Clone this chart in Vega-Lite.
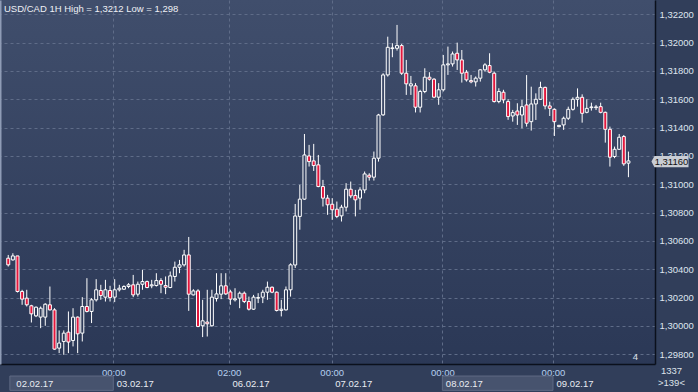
{
"$schema": "https://vega.github.io/schema/vega-lite/v6.json",
"width": 655, "height": 364,
"padding": {"left": 0, "top": 0, "right": 43, "bottom": 28},
"autosize": {"type": "none"},
"background": "#313e5a",
"title": {"text": "USD/CAD 1H High = 1,3212 Low = 1,298", "anchor": "start", "frame": "group", "offset": -13, "dx": 4, "fontSize": 9.5, "font": "Liberation Sans", "fontWeight": "normal", "color": "#eef0f5"},
"config": {
 "view": {"stroke": null, "fill": {"gradient": "linear", "x1": 0, "y1": 0, "x2": 0, "y2": 1, "stops": [{"offset": 0, "color": "#404e6c"}, {"offset": 1, "color": "#2b3856"}]}},
 "text": {"font": "Liberation Sans"}
},
"datasets": {
 "candles": [
{"i":0,"o":1.30478,"h":1.30501,"l":1.30419,"c":1.30431},
{"i":1,"o":1.30466,"h":1.30513,"l":1.30461,"c":1.30494},
{"i":2,"o":1.30494,"h":1.30494,"l":1.30236,"c":1.30243},
{"i":3,"o":1.30243,"h":1.30255,"l":1.30149,"c":1.30189},
{"i":4,"o":1.30196,"h":1.30255,"l":1.30137,"c":1.30149},
{"i":5,"o":1.30142,"h":1.30149,"l":1.30024,"c":1.30085},
{"i":6,"o":1.30071,"h":1.30137,"l":1.30062,"c":1.30132},
{"i":7,"o":1.30062,"h":1.30137,"l":1.29984,"c":1.30125},
{"i":8,"o":1.30062,"h":1.30160,"l":1.30001,"c":1.30153},
{"i":9,"o":1.30149,"h":1.30278,"l":1.30109,"c":1.30113},
{"i":10,"o":1.30113,"h":1.30125,"l":1.29832,"c":1.29836},
{"i":11,"o":1.29843,"h":1.29968,"l":1.29808,"c":1.29879},
{"i":12,"o":1.29890,"h":1.29968,"l":1.29796,"c":1.29949},
{"i":13,"o":1.29956,"h":1.30102,"l":1.29808,"c":1.29886},
{"i":14,"o":1.29897,"h":1.30125,"l":1.29855,"c":1.30062},
{"i":15,"o":1.30062,"h":1.30067,"l":1.29808,"c":1.29944},
{"i":16,"o":1.29949,"h":1.30203,"l":1.29890,"c":1.30137},
{"i":17,"o":1.30137,"h":1.30337,"l":1.30095,"c":1.30102},
{"i":18,"o":1.30102,"h":1.30196,"l":1.30020,"c":1.30184},
{"i":19,"o":1.30184,"h":1.30330,"l":1.30172,"c":1.30255},
{"i":20,"o":1.30250,"h":1.30290,"l":1.30184,"c":1.30215},
{"i":21,"o":1.30203,"h":1.30325,"l":1.30172,"c":1.30255},
{"i":22,"o":1.30250,"h":1.30283,"l":1.30172,"c":1.30200},
{"i":23,"o":1.30203,"h":1.30330,"l":1.30168,"c":1.30255},
{"i":24,"o":1.30255,"h":1.30290,"l":1.30243,"c":1.30266},
{"i":25,"o":1.30259,"h":1.30287,"l":1.30255,"c":1.30278},
{"i":26,"o":1.30278,"h":1.30302,"l":1.30266,"c":1.30290},
{"i":27,"o":1.30290,"h":1.30360,"l":1.30203,"c":1.30219},
{"i":28,"o":1.30224,"h":1.30313,"l":1.30207,"c":1.30294},
{"i":29,"o":1.30294,"h":1.30396,"l":1.30255,"c":1.30313},
{"i":30,"o":1.30313,"h":1.30320,"l":1.30266,"c":1.30271},
{"i":31,"o":1.30283,"h":1.30325,"l":1.30266,"c":1.30290},
{"i":32,"o":1.30285,"h":1.30372,"l":1.30278,"c":1.30320},
{"i":33,"o":1.30320,"h":1.30337,"l":1.30231,"c":1.30294},
{"i":34,"o":1.30285,"h":1.30349,"l":1.30224,"c":1.30273},
{"i":35,"o":1.30271,"h":1.30384,"l":1.30266,"c":1.30353},
{"i":36,"o":1.30349,"h":1.30454,"l":1.30313,"c":1.30414},
{"i":37,"o":1.30414,"h":1.30466,"l":1.30372,"c":1.30431},
{"i":38,"o":1.30431,"h":1.30537,"l":1.30419,"c":1.30501},
{"i":39,"o":1.30501,"h":1.30628,"l":1.30106,"c":1.30224},
{"i":40,"o":1.30219,"h":1.30259,"l":1.30215,"c":1.30247},
{"i":41,"o":1.30247,"h":1.30259,"l":1.29991,"c":1.29996},
{"i":42,"o":1.30001,"h":1.30184,"l":1.29921,"c":1.30036},
{"i":43,"o":1.30027,"h":1.30255,"l":1.29925,"c":1.30015},
{"i":44,"o":1.30001,"h":1.30255,"l":1.29996,"c":1.30203},
{"i":45,"o":1.30193,"h":1.30372,"l":1.30172,"c":1.30226},
{"i":46,"o":1.30224,"h":1.30372,"l":1.30189,"c":1.30283},
{"i":47,"o":1.30283,"h":1.30372,"l":1.30219,"c":1.30226},
{"i":48,"o":1.30240,"h":1.30255,"l":1.30149,"c":1.30189},
{"i":49,"o":1.30184,"h":1.30266,"l":1.30172,"c":1.30191},
{"i":50,"o":1.30196,"h":1.30243,"l":1.30125,"c":1.30231},
{"i":51,"o":1.30231,"h":1.30243,"l":1.30161,"c":1.30172},
{"i":52,"o":1.30172,"h":1.30207,"l":1.30109,"c":1.30118},
{"i":53,"o":1.30118,"h":1.30219,"l":1.30113,"c":1.30203},
{"i":54,"o":1.30196,"h":1.30231,"l":1.30161,"c":1.30200},
{"i":55,"o":1.30203,"h":1.30255,"l":1.30161,"c":1.30238},
{"i":56,"o":1.30238,"h":1.30313,"l":1.30184,"c":1.30273},
{"i":57,"o":1.30273,"h":1.30278,"l":1.30231,"c":1.30238},
{"i":58,"o":1.30238,"h":1.30243,"l":1.30102,"c":1.30109},
{"i":59,"o":1.30109,"h":1.30184,"l":1.30067,"c":1.30118},
{"i":60,"o":1.30113,"h":1.30278,"l":1.30109,"c":1.30255},
{"i":61,"o":1.30255,"h":1.30442,"l":1.30207,"c":1.30431},
{"i":62,"o":1.30430,"h":1.30861,"l":1.30409,"c":1.30776},
{"i":63,"o":1.30773,"h":1.30996,"l":1.30679,"c":1.30895},
{"i":64,"o":1.30895,"h":1.31355,"l":1.30890,"c":1.31207},
{"i":65,"o":1.31200,"h":1.31278,"l":1.31125,"c":1.31160},
{"i":66,"o":1.31165,"h":1.31285,"l":1.31094,"c":1.31132},
{"i":67,"o":1.31137,"h":1.31207,"l":1.30979,"c":1.30984},
{"i":68,"o":1.30984,"h":1.31031,"l":1.30843,"c":1.30902},
{"i":69,"o":1.30902,"h":1.30925,"l":1.30784,"c":1.30855},
{"i":70,"o":1.30859,"h":1.30902,"l":1.30749,"c":1.30820},
{"i":71,"o":1.30824,"h":1.30878,"l":1.30761,"c":1.30773},
{"i":72,"o":1.30777,"h":1.30855,"l":1.30737,"c":1.30838},
{"i":73,"o":1.30838,"h":1.31008,"l":1.30808,"c":1.30965},
{"i":74,"o":1.30965,"h":1.31019,"l":1.30902,"c":1.30918},
{"i":75,"o":1.30921,"h":1.30960,"l":1.30773,"c":1.30890},
{"i":76,"o":1.30902,"h":1.30979,"l":1.30820,"c":1.30960},
{"i":77,"o":1.30960,"h":1.31090,"l":1.30937,"c":1.31073},
{"i":78,"o":1.31064,"h":1.31078,"l":1.31026,"c":1.31050},
{"i":79,"o":1.31050,"h":1.31231,"l":1.31026,"c":1.31184},
{"i":80,"o":1.31184,"h":1.31497,"l":1.31160,"c":1.31489},
{"i":81,"o":1.31490,"h":1.31784,"l":1.31483,"c":1.31772},
{"i":82,"o":1.31772,"h":1.32042,"l":1.31760,"c":1.31967},
{"i":83,"o":1.31958,"h":1.31996,"l":1.31897,"c":1.31963},
{"i":84,"o":1.31960,"h":1.32125,"l":1.31944,"c":1.31979},
{"i":85,"o":1.31979,"h":1.31991,"l":1.31772,"c":1.31784},
{"i":86,"o":1.31784,"h":1.31878,"l":1.31631,"c":1.31709},
{"i":87,"o":1.31695,"h":1.31765,"l":1.31631,"c":1.31709},
{"i":88,"o":1.31695,"h":1.31714,"l":1.31507,"c":1.31544},
{"i":89,"o":1.31544,"h":1.31667,"l":1.31507,"c":1.31655},
{"i":90,"o":1.31655,"h":1.31819,"l":1.31643,"c":1.31756},
{"i":91,"o":1.31756,"h":1.31791,"l":1.31732,"c":1.31742},
{"i":92,"o":1.31742,"h":1.31749,"l":1.31608,"c":1.31615},
{"i":93,"o":1.31615,"h":1.31714,"l":1.31561,"c":1.31667},
{"i":94,"o":1.31667,"h":1.31913,"l":1.31655,"c":1.31843},
{"i":95,"o":1.31843,"h":1.31972,"l":1.31772,"c":1.31850},
{"i":96,"o":1.31850,"h":1.31937,"l":1.31831,"c":1.31920},
{"i":97,"o":1.31925,"h":1.32000,"l":1.31807,"c":1.31878},
{"i":98,"o":1.31878,"h":1.31948,"l":1.31718,"c":1.31784},
{"i":99,"o":1.31791,"h":1.31807,"l":1.31725,"c":1.31737},
{"i":100,"o":1.31732,"h":1.31772,"l":1.31713,"c":1.31723},
{"i":101,"o":1.31723,"h":1.31761,"l":1.31690,"c":1.31749},
{"i":102,"o":1.31749,"h":1.31812,"l":1.31725,"c":1.31808},
{"i":103,"o":1.31808,"h":1.31855,"l":1.31796,"c":1.31843},
{"i":104,"o":1.31838,"h":1.31925,"l":1.31784,"c":1.31791},
{"i":105,"o":1.31784,"h":1.31796,"l":1.31577,"c":1.31584},
{"i":106,"o":1.31584,"h":1.31678,"l":1.31572,"c":1.31655},
{"i":107,"o":1.31650,"h":1.31667,"l":1.31572,"c":1.31596},
{"i":108,"o":1.31584,"h":1.31601,"l":1.31455,"c":1.31478},
{"i":109,"o":1.31482,"h":1.31525,"l":1.31442,"c":1.31506},
{"i":110,"o":1.31517,"h":1.31572,"l":1.31419,"c":1.31489},
{"i":111,"o":1.31489,"h":1.31595,"l":1.31395,"c":1.31548},
{"i":112,"o":1.31560,"h":1.31771,"l":1.31407,"c":1.31431},
{"i":113,"o":1.31442,"h":1.31689,"l":1.31379,"c":1.31567},
{"i":114,"o":1.31567,"h":1.31642,"l":1.31454,"c":1.31600},
{"i":115,"o":1.31600,"h":1.31724,"l":1.31595,"c":1.31684},
{"i":116,"o":1.31684,"h":1.31689,"l":1.31529,"c":1.31553},
{"i":117,"o":1.31553,"h":1.31583,"l":1.31482,"c":1.31536},
{"i":118,"o":1.31529,"h":1.31536,"l":1.31341,"c":1.31442},
{"i":119,"o":1.31407,"h":1.31419,"l":1.31402,"c":1.31416},
{"i":120,"o":1.31419,"h":1.31478,"l":1.31384,"c":1.31466},
{"i":121,"o":1.31466,"h":1.31548,"l":1.31454,"c":1.31529},
{"i":122,"o":1.31529,"h":1.31614,"l":1.31520,"c":1.31600},
{"i":123,"o":1.31600,"h":1.31677,"l":1.31548,"c":1.31614},
{"i":124,"o":1.31614,"h":1.31635,"l":1.31435,"c":1.31501},
{"i":125,"o":1.31508,"h":1.31600,"l":1.31501,"c":1.31536},
{"i":126,"o":1.31541,"h":1.31576,"l":1.31520,"c":1.31546},
{"i":127,"o":1.31541,"h":1.31560,"l":1.31524,"c":1.31546},
{"i":128,"o":1.31548,"h":1.31576,"l":1.31501,"c":1.31508},
{"i":129,"o":1.31508,"h":1.31513,"l":1.31294,"c":1.31388},
{"i":130,"o":1.31388,"h":1.31407,"l":1.31125,"c":1.31191},
{"i":131,"o":1.31196,"h":1.31266,"l":1.31184,"c":1.31247},
{"i":132,"o":1.31247,"h":1.31355,"l":1.31242,"c":1.31332},
{"i":133,"o":1.31337,"h":1.31348,"l":1.31130,"c":1.31144},
{"i":134,"o":1.31149,"h":1.31231,"l":1.31050,"c":1.31165}
 ],
 "days": [{"start": 0.35, "end": 22.7}, {"start": 93.8, "end": 117.7}],
 "last": [{"p": 1.3116, "label": "1,31160"}],
 "corner": [{"label": "1337", "p": 1.29685}, {"label": ">139<", "p": 1.29595}],
 "marker": [{"label": "4", "p": 1.29781}]
},
"resolve": {"axis": {"x": "independent", "y": "independent"}},
"layer": [
 {
  "data": {"name": "days"},
  "mark": {"type": "rect", "fill": "#47536e", "stroke": "#5e6a84", "strokeWidth": 1},
  "encoding": {
   "x": {"field": "start", "type": "quantitative", "axis": null},
   "x2": {"field": "end"},
   "y": {"datum": 1.29646, "type": "quantitative", "axis": null},
   "y2": {"datum": 1.29545}
  }
 },
 {
  "data": {"name": "candles"},
  "mark": {"type": "rule", "color": "#ffffff", "strokeWidth": 1},
  "encoding": {
   "x": {"field": "i", "type": "quantitative",
    "scale": {"domain": [-0.7, 138.66], "nice": false, "zero": false},
    "axis": {"orient": "bottom", "title": null, "values": [22.7, 47.7, 69.9, 93.8, 117.7],
     "labelExpr": "datum.value > 40 && datum.value < 50 ? '02:00' : '00:00'",
     "grid": true, "gridColor": "#5f6c88", "gridDash": [3, 3], "gridWidth": 1,
     "ticks": false, "tickSize": 0, "domain": true, "domainColor": "#0b101c", "domainWidth": 1.5,
     "labelPadding": 3, "labelColor": "#b6cff0", "labelFontSize": 9.5, "labelFont": "Liberation Sans", "labelAlign": "center", "labelOverlap": false, "labelFlush": false}},
   "y": {"field": "l", "type": "quantitative",
    "scale": {"domain": [1.29731, 1.32301], "nice": false, "zero": false},
    "axis": {"orient": "right", "title": null,
     "values": [1.298, 1.300, 1.302, 1.304, 1.306, 1.308, 1.310, 1.312, 1.314, 1.316, 1.318, 1.320, 1.322],
     "labelExpr": "replace(format(datum.value, '.5f'), '.', ',')",
     "grid": true, "gridColor": "#5f6c88", "gridDash": [3, 3], "gridWidth": 1,
     "ticks": false, "tickSize": 0, "domain": true, "domainColor": "#0b101c", "domainWidth": 1.5,
     "labelPadding": 4, "labelColor": "#dfe5ef", "labelFontSize": 9.5, "labelFont": "Liberation Sans", "labelBaseline": "middle", "labelOverlap": false, "labelFlush": false}},
   "y2": {"field": "h"}
  }
 },
 {
  "data": {"name": "candles"},
  "mark": {"type": "bar", "size": 3, "stroke": "#ffffff", "strokeWidth": 1},
  "encoding": {
   "x": {"field": "i", "type": "quantitative",
    "axis": {"orient": "bottom", "title": null, "zindex": 2, "values": [1, 22.7, 47.7, 69.9, 93.8, 117.7],
     "labelExpr": "datum.value < 10 ? '02.02.17' : datum.value < 30 ? '03.02.17' : datum.value < 55 ? '06.02.17' : datum.value < 80 ? '07.02.17' : datum.value < 100 ? '08.02.17' : '09.02.17'",
     "grid": false, "ticks": false, "tickSize": 0, "domain": false, "labelOverlap": false, "labelFlush": false,
     "labelPadding": 14, "labelOffset": 3, "labelAlign": "left", "labelColor": "#e9ecf2", "labelFontSize": 9.5, "labelFont": "Liberation Sans"}},
   "y": {"field": "o", "type": "quantitative",
    "axis": {"orient": "left", "title": null, "labels": false, "grid": false, "ticks": false, "domain": true, "domainColor": "#8f9cb6", "domainWidth": 2}},
   "y2": {"field": "c"},
   "fill": {
    "condition": {"test": "datum.c < datum.o", "value": "#e3173d"},
    "field": "c", "type": "quantitative",
    "scale": {"domain": [1.29731, 1.32301], "range": ["#2b3856", "#404e6c"]},
    "legend": null}
  }
 },
 {
  "data": {"name": "last"},
  "mark": {"type": "point", "filled": true, "shape": "M-1.18,0 L-1,-0.33 L1,-0.33 L1,0.33 L-1,0.33 Z", "size": 1156, "color": "#c9cdd4", "opacity": 1, "strokeWidth": 0},
  "encoding": {
   "x": {"datum": 143.3, "type": "quantitative", "axis": null},
   "y": {"field": "p", "type": "quantitative", "axis": null}
  }
 },
 {
  "data": {"name": "last"},
  "mark": {"type": "text", "fontSize": 9.5, "color": "#111111", "align": "center", "baseline": "middle"},
  "encoding": {
   "x": {"datum": 143.3, "type": "quantitative", "axis": null},
   "y": {"field": "p", "type": "quantitative", "axis": null},
   "text": {"field": "label"}
  }
 },
 {
  "data": {"name": "corner"},
  "mark": {"type": "text", "fontSize": 9.5, "color": "#dde2ea", "align": "center", "baseline": "middle"},
  "encoding": {
   "x": {"datum": 143.3, "type": "quantitative", "axis": null},
   "y": {"field": "p", "type": "quantitative", "axis": null},
   "text": {"field": "label"}
  }
 },
 {
  "data": {"name": "marker"},
  "mark": {"type": "text", "fontSize": 9.5, "color": "#dde2ea", "align": "center", "baseline": "middle"},
  "encoding": {
   "x": {"datum": 135.5, "type": "quantitative", "axis": null},
   "y": {"field": "p", "type": "quantitative", "axis": null},
   "text": {"field": "label"}
  }
 }
]
}
